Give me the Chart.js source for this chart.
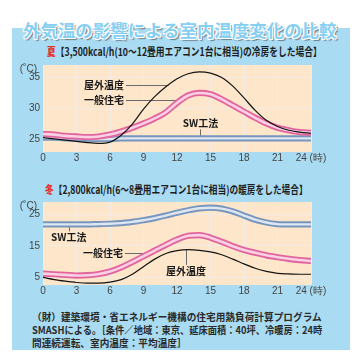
<!DOCTYPE html>
<html><head><meta charset="utf-8">
<script src="https://cdn.jsdelivr.net/npm/chart.js@4/dist/chart.umd.min.js"></script>
<style>
html,body{margin:0;padding:0;background:#fff;}
#wrap{position:relative;width:361px;height:358px;overflow:hidden;font-family:"Noto Sans CJK JP","Noto Sans",sans-serif;}
#bg{position:absolute;left:12px;top:28px;width:338px;height:322px;background-color:#dcf1fb;background-image:radial-gradient(circle,#a9dbf2 0.75px,transparent 0.9px);background-size:2px 2px;}
.t{position:absolute;left:0;top:0;white-space:nowrap;transform-origin:0 0;line-height:1.2;}
#title{font-size:17px;font-weight:bold;color:#86cff2;text-shadow:-1px -1px 0 #fff,1px -1px 0 #fff,-1px 1px 0 #fff,1px 1px 0 #fff,2px 2px 1px #6c7d8a;}
.sub{font-size:11px;font-weight:bold;color:#1e1e1e;}
.sub b{color:#e3302a;}
.foot{font-size:10px;font-weight:bold;color:#2a2a2a;}
canvas{position:absolute;}
</style></head>
<body><div id="wrap">
<div id="bg"></div>
<div class="t" id="title">外気温の影響による室内温度変化の比較</div>
<div class="t sub" id="sub1"><b>夏</b>【3,500kcal/h(10〜12畳用エアコン1台に相当)の冷房をした場合】</div>
<div class="t sub" id="sub2"><b>冬</b>【2,800kcal/h(6〜8畳用エアコン1台に相当)の暖房をした場合】</div>
<canvas id="c1" width="338" height="110" style="left:12px;top:56px"></canvas>
<canvas id="c2" width="338" height="106" style="left:12px;top:193px"></canvas>
<div class="t foot" id="f1">（財）建築環境・省エネルギー機構の住宅用熱負荷計算プログラム</div>
<div class="t foot" id="f2">SMASHによる。［条件／地域：東京、延床面積：40坪、冷暖房：24時</div>
<div class="t foot" id="f3">間連続運転、室内温度：平均温度］</div>
</div>
<script>
// ---- data ----
const hours = [0,1,2,3,4,5,6,7,8,9,10,11,12,13,14,15,16,17,18,19,20,21,22,23,24];
const xTicks = [0,3,6,9,12,15,18,21,24];
const xTickLabels = ['0','3','6','9','12','15','18','21','24 (時)'];
const summerYTicks = [25,30,35];
const winterYTicks = [5,15,25];
const seriesNames = ['屋外温度','一般住宅','SW工法'];

const summerOutdoor = [25.3,25.1,24.9,24.7,24.5,24.4,24.6,25.7,27.5,29.9,31.9,33.5,34.8,35.6,35.9,35.7,35.0,33.6,31.7,29.7,28.1,27.1,26.5,26.2,26.0];
const summerHouse   = [25.9,25.8,25.6,25.5,25.4,25.5,25.8,26.3,26.9,27.6,28.4,29.4,30.9,32.1,32.5,32.3,31.5,30.5,29.5,28.5,27.6,26.9,26.5,26.2,26.1];
const summerSW      = [25.3,25.3,25.2,25.2,25.1,25.1,25.1,25.2,25.2,25.2,25.2,25.2,25.2,25.2,25.2,25.2,25.2,25.2,25.2,25.2,25.2,25.2,25.2,25.2,25.2];

const winterOutdoor = [5.0,4.3,3.8,3.4,3.2,3.2,3.5,4.3,6.0,8.4,10.8,12.6,13.5,13.8,13.6,13.1,12.2,10.8,9.3,7.9,6.9,6.3,6.1,6.0,6.0];
const winterHouse   = [6.2,6.0,5.8,5.6,5.7,6.1,6.9,8.2,9.9,11.7,13.5,15.3,17.0,18.2,18.4,17.6,16.3,14.9,13.7,12.8,12.0,11.4,10.9,10.5,10.2];
const winterSW      = [21.8,21.8,21.8,21.8,21.8,21.9,22.0,22.2,22.6,23.1,23.8,24.6,25.5,26.3,26.9,27.1,26.8,25.9,24.6,23.3,22.4,21.9,21.8,21.8,21.8];

// ---- helpers ----
const pts = arr => hours.map((h,i)=>({x:h,y:arr[i]}));
function valueAt(s,h){
  for(let i=0;i<hours.length-1;i++){
    if(h>=hours[i]&&h<=hours[i+1]){const f=(h-hours[i])/(hours[i+1]-hours[i]);return s[i]+f*(s[i+1]-s[i]);}
  }
  return s[s.length-1];
}
function crossHour(s,v,start){
  for(let i=0;i<hours.length-1;i++){
    if(hours[i+1]<start) continue;
    if((s[i]-v)*(s[i+1]-v)<=0 && s[i]!==s[i+1]){
      const h=hours[i]+(v-s[i])/(s[i+1]-s[i])*(hours[i+1]-hours[i]);
      if(h>=start) return h;
    }
  }
  return start;
}

const areaBg = {
  id:'areaBg',
  beforeDraw(chart){
    const {ctx,chartArea:a}=chart;
    ctx.save();ctx.fillStyle='#fde6ca';ctx.fillRect(a.left,a.top,a.right-a.left,a.bottom-a.top);ctx.restore();
  }
};
const notes = {
  id:'notes',
  beforeDatasetsDraw(chart,args,opts){
    const ctx=chart.ctx,xs=chart.scales.x,ys=chart.scales.y;
    ctx.save();
    ctx.font='bold 10px "Noto Sans CJK JP"';
    ctx.strokeStyle='#6a6a6a';ctx.lineWidth=1;
    opts.items.forEach(n=>{
      const w=ctx.measureText(n.text).width;
      const ax=xs.getPixelForValue(n.x),ay=ys.getPixelForValue(n.y);
      const left=n.align==='right'?ax-w:ax-w/2;
      ctx.beginPath();
      if(n.leader==='h'){
        const hx=crossHour(n.series,n.y,n.x);
        const yy=Math.round(ay)+0.5;
        ctx.moveTo(left+w+2,yy);ctx.lineTo(xs.getPixelForValue(hx),yy);
      }else{
        const vy=ys.getPixelForValue(valueAt(n.series,n.x));
        const x0=Math.round(ax)+0.5;
        ctx.moveTo(x0,n.leader==='up'?ay-6:ay+6);ctx.lineTo(x0,vy);
      }
      ctx.stroke();
    });
    ctx.restore();
  },
  afterDatasetsDraw(chart,args,opts){
    const ctx=chart.ctx,xs=chart.scales.x,ys=chart.scales.y,a=chart.chartArea;
    ctx.save();
    ctx.font='bold 10px "Noto Sans CJK JP"';
    ctx.textBaseline='middle';ctx.fillStyle='#1a1a1a';
    opts.items.forEach(n=>{
      const w=ctx.measureText(n.text).width;
      const ax=xs.getPixelForValue(n.x),ay=ys.getPixelForValue(n.y);
      const left=n.align==='right'?ax-w:ax-w/2;
      ctx.textAlign='left';
      ctx.fillText(n.text,left,ay);
    });
    ctx.font='10px "Liberation Sans"';ctx.fillStyle='#444';ctx.textAlign='right';
    ctx.fillText('(˚C)',a.left-6,a.top+4);
    ctx.restore();
  }
};

function makeChart(id,s,yMin,yMax,yTicks,items){
  return new Chart(document.getElementById(id),{
    type:'line',
    data:{datasets:[
      {label:seriesNames[0],data:pts(s.outdoor),borderColor:'#141414',borderWidth:1.2},
      {label:seriesNames[1],data:pts(s.house),borderColor:'#fad0e3',borderWidth:2.6},
      {label:seriesNames[1],data:pts(s.house),borderColor:'#e2649f',borderWidth:6.2},
      {label:seriesNames[2],data:pts(s.sw),borderColor:'#dde6f1',borderWidth:2.4},
      {label:seriesNames[2],data:pts(s.sw),borderColor:'#7896bd',borderWidth:6.2}
    ]},
    options:{
      responsive:false,animation:false,
      layout:{padding:{top:5,right:39,left:0,bottom:0}},
      elements:{point:{radius:0},line:{cubicInterpolationMode:'monotone',fill:false}},
      plugins:{legend:{display:false},tooltip:{enabled:false},notes:{items}},
      scales:{
        x:{type:'linear',min:0,max:24,
          afterBuildTicks:sc=>{sc.ticks=xTicks.map(v=>({value:v}));},
          afterFit:sc=>{sc.height=14;},
          ticks:{autoSkip:false,maxRotation:0,padding:0,color:'#444',font:{family:'Liberation Sans',size:10},
            callback:(v,i)=>xTickLabels[i]},
          grid:{color:'#f3ece5',drawTicks:false},border:{display:false}},
        y:{min:yMin,max:yMax,
          afterBuildTicks:sc=>{sc.ticks=yTicks.map(v=>({value:v}));},
          afterFit:sc=>{sc.width=31;},
          ticks:{padding:3,color:'#444',font:{family:'Liberation Sans',size:10}},
          grid:{color:'#f3ece5',drawTicks:false},border:{display:false}}
      }
    },
    plugins:[areaBg,notes]
  });
}

makeChart('c1',{outdoor:summerOutdoor,house:summerHouse,sw:summerSW},23,37,summerYTicks,[
  {text:'屋外温度',x:7.25,y:33.8,align:'right',leader:'h',series:summerOutdoor},
  {text:'一般住宅',x:7.25,y:31.3,align:'right',leader:'h',series:summerHouse},
  {text:'SW工法',x:14.1,y:27.6,align:'center',leader:'down',series:summerSW}
]);
makeChart('c2',{outdoor:winterOutdoor,house:winterHouse,sw:winterSW},2.6,28.9,winterYTicks,[
  {text:'SW工法',x:2.3,y:17.7,align:'center',leader:'up',series:winterSW},
  {text:'一般住宅',x:7.16,y:12.6,align:'right',leader:'h',series:winterHouse},
  {text:'屋外温度',x:12.8,y:7.1,align:'center',leader:'up',series:winterOutdoor}
]);

// ---- text placement ----
function fit(id,left,width,cy,scale){
  const el=document.getElementById(id);
  const w=el.offsetWidth,h=el.offsetHeight;
  const k=scale||width/w;
  el.style.left=left+'px';el.style.top=(cy-h/2)+'px';
  el.style.transform='scaleX('+k+')';
  return k;
}
fit('title',23,314,30);
fit('sub1',47,275,51);
fit('sub2',45,263,189);
const k=fit('f1',32,290,317);
fit('f2',32,290,330);
fit('f3',32,0,343,k);
</script>
</body></html>
